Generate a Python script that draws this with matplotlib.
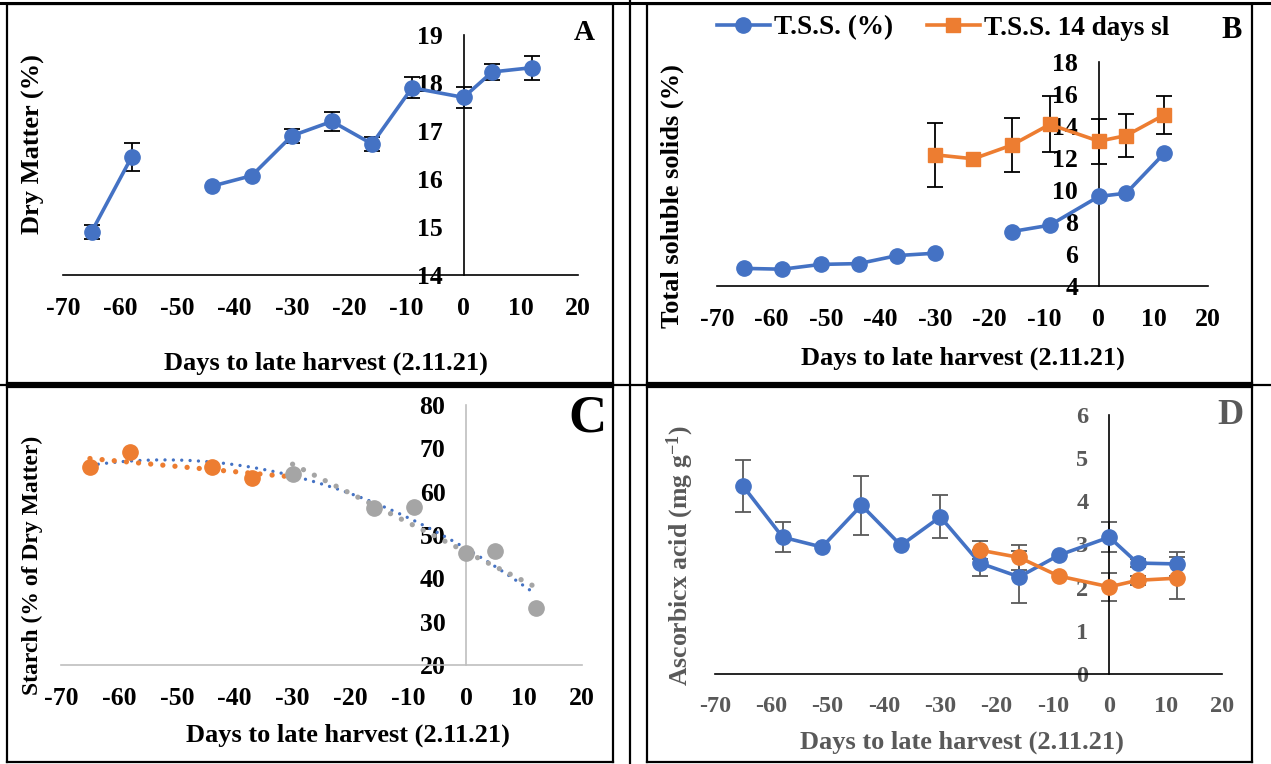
import numpy as np
import matplotlib
matplotlib.use('agg')
import matplotlib.pyplot as plt
from matplotlib.lines import Line2D

plt.rcParams['font.family'] = ['Liberation Serif', 'DejaVu Serif']
plt.rcParams['font.weight'] = 'bold'
plt.rcParams['axes.unicode_minus'] = False
plt.rcParams['mathtext.fontset'] = 'custom'
plt.rcParams['mathtext.rm'] = 'Liberation Serif:bold'
plt.rcParams['mathtext.bf'] = 'Liberation Serif:bold'
plt.rcParams['mathtext.default'] = 'bf'

nan = np.nan
BLUE, ORANGE, GRAY = '#4472C4', '#ED7D31', '#A5A5A5'
DGRAY = '#595959'

# sampling dates, days relative to late harvest (2.11.21)
days = [-65, -58, -51, -44, -37, -30, -23, -16, -9, 0, 5, 12]
x_ticks = [-70, -60, -50, -40, -30, -20, -10, 0, 10, 20]

# A - dry matter
dry_matter = [14.9, 16.46, nan, 15.85, 16.07, 16.9, 17.2, 16.73, 17.9, 17.7, 18.23, 18.32]
dry_matter_err = [0.15, 0.29, 0, 0, 0, 0.14, 0.2, 0.15, 0.22, 0.22, 0.17, 0.25]

# B - total soluble solids
tss = [5.1, 5.05, 5.35, 5.4, 5.9, 6.05, nan, 7.4, 7.8, 9.6, 9.8, 12.3]
tss_14d = [nan, nan, nan, nan, nan, 12.2, 11.95, 12.8, 14.1, 13.05, 13.4, 14.7]
tss_14d_err = [0, 0, 0, 0, 0, 2.0, 0, 1.7, 1.75, 1.4, 1.35, 1.2]

# C - starch
starch_early_days = [-65, -58, -44, -37]
starch_early = [65.7, 69.2, 65.7, 63.2]
starch_late_days = [-30, -16, -9, 0, 5, 12]
starch_late = [64.1, 56.2, 56.5, 45.9, 46.3, 33.2]

# D - ascorbic acid
ascorbic = [4.35, 3.17, 2.94, 3.91, 2.98, 3.64, 2.57, 2.25, 2.75, 3.17, 2.57, 2.55]
ascorbic_err = [0.6, 0.35, 0, 0.68, 0, 0.5, 0.3, 0.6, 0, 0.35, 0.1, 0.27]
ascorbic_sl = [nan, nan, nan, nan, nan, nan, 2.87, 2.7, 2.27, 2.02, 2.17, 2.22]
ascorbic_sl_err = [0, 0, 0, 0, 0, 0, 0.2, 0.3, 0, 0.33, 0.1, 0.49]

W, H = 1271, 764
fig = plt.figure(figsize=(W / 100, H / 100), dpi=100)


def px_axes(x0, x1, ytop, ybot):
    return fig.add_axes([x0 / W, 1 - ybot / H, (x1 - x0) / W, (ybot - ytop) / H])


def fig_line(x0, y0, x1, y1, color='black', lw=1.6):
    fig.add_artist(Line2D([x0 / W, x1 / W], [1 - y0 / H, 1 - y1 / H],
                          transform=fig.transFigure, color=color, lw=lw))


def fig_text(x, y, s, size, color='black', rot=0):
    fig.text(x / W, 1 - y / H, s, ha='center', va='center', fontsize=size,
             fontweight='bold', color=color, rotation=rot)


def style_axes(ax, ylim, yticks, axcolor='black', txtcolor='black', size=18.5):
    ax.set_xlim(-70, 20)
    ax.set_ylim(*ylim)
    ax.set_xticks(x_ticks)
    ax.set_yticks(yticks)
    ax.patch.set_alpha(0)
    for s in ['top', 'right']:
        ax.spines[s].set_visible(False)
    ax.spines['left'].set_position(('data', 0))
    ax.spines['left'].set_color(axcolor)
    ax.spines['bottom'].set_color(axcolor)
    ax.spines['left'].set_linewidth(1.2)
    ax.spines['bottom'].set_linewidth(1.2)
    ax.tick_params(axis='x', length=0, pad=16, labelsize=size, labelcolor=txtcolor)
    ax.tick_params(axis='y', length=0, pad=15, labelsize=size, labelcolor=txtcolor)
    for lab in ax.get_xticklabels() + ax.get_yticklabels():
        lab.set_fontweight('bold')


def err_bars(ax, vals, errs, color):
    keep = [i for i in range(len(days)) if errs[i] > 0 and not np.isnan(vals[i])]
    ax.errorbar([days[i] for i in keep], [vals[i] for i in keep],
                yerr=[errs[i] for i in keep], fmt='none', ecolor=color,
                elinewidth=1.3, capsize=5.5, capthick=1.3, zorder=2)


# ---- A ----
ax = px_axes(63, 578, 35, 275)
style_axes(ax, (14, 19), range(14, 20))
ax.plot(days, dry_matter, color=BLUE, lw=2.6, marker='o', ms=11, zorder=3)
err_bars(ax, dry_matter, dry_matter_err, 'black')
fig_text(33, 144, 'Dry Matter (%)', 19, rot=90)
fig_text(326, 363, 'Days to late harvest (2.11.21)', 19)
fig_text(584, 32, 'A', 21)

# ---- B ----
ax = px_axes(717, 1208, 62, 286)
style_axes(ax, (4, 18), range(4, 19, 2))
l1, = ax.plot(days, tss, color=BLUE, lw=2.6, marker='o', ms=11, zorder=3,
              label='T.S.S. (%)')
l2, = ax.plot(days, tss_14d, color=ORANGE, lw=2.6, marker='s', ms=10, zorder=3,
              label='T.S.S. 14 days sl')
err_bars(ax, tss_14d, tss_14d_err, 'black')
fig.legend(handles=[l1, l2], loc='center left', bbox_to_anchor=(717 / W, 1 - 28 / H),
           ncol=2, frameon=False, handlelength=1.95, columnspacing=1.25,
           handletextpad=0.15, borderpad=0, borderaxespad=0,
           prop={'weight': 'bold', 'size': 19.5})
fig_text(672, 196, 'Total soluble solids (%)', 19, rot=90)
fig_text(963, 358, 'Days to late harvest (2.11.21)', 19)
fig_text(1232, 30, 'B', 22)

# ---- C ----
ax = px_axes(61, 582, 405, 665)
style_axes(ax, (20, 80), range(20, 81, 10), axcolor='#BFBFBF')
all_d = np.array(starch_early_days + starch_late_days, dtype=float)
all_v = np.array(starch_early + starch_late, dtype=float)
xs = np.linspace(-65, 12, 200)
ax.plot(xs, np.polyval(np.polyfit(all_d, all_v, 2), xs), color=BLUE, lw=2.4,
        ls=(0, (0.01, 2.5)), dash_capstyle='round', zorder=2)
xs = np.linspace(-65, -30, 100)
ax.plot(xs, np.polyval(np.polyfit(starch_early_days, starch_early, 1), xs), color=ORANGE,
        lw=3.8, ls=(0, (0.01, 2.3)), dash_capstyle='round', zorder=2)
xs = np.linspace(-30, 12, 100)
ax.plot(xs, np.polyval(np.polyfit(starch_late_days, starch_late, 1), xs), color=GRAY,
        lw=3.8, ls=(0, (0.01, 2.3)), dash_capstyle='round', zorder=2)
ax.plot(starch_early_days, starch_early, 'o', color=ORANGE, ms=11, zorder=3)
ax.plot(starch_late_days, starch_late, 'o', color=GRAY, ms=11, zorder=3)
fig_text(32, 565, 'Starch (% of Dry Matter)', 17, rot=90)
fig_text(348, 735, 'Days to late harvest (2.11.21)', 19)
fig_text(587, 419, 'C', 38)

# ---- D ----
ax = px_axes(715, 1222, 415, 674)
style_axes(ax, (0, 6), range(0, 7), txtcolor=DGRAY, size=17.5)
ax.plot(days, ascorbic, color=BLUE, lw=2.6, marker='o', ms=11, zorder=3)
ax.plot(days, ascorbic_sl, color=ORANGE, lw=2.6, marker='o', ms=11, zorder=3)
err_bars(ax, ascorbic, ascorbic_err, DGRAY)
err_bars(ax, ascorbic_sl, ascorbic_sl_err, DGRAY)
fig_text(680, 556, 'Ascorbicx acid (mg g$^{-1}$)', 18.5, color=DGRAY, rot=90)
fig_text(962, 742, 'Days to late harvest (2.11.21)', 19, color=DGRAY)
fig_text(1230, 415, 'D', 26, color=DGRAY)

# ---- table / panel frames ----
for x0, x1, y0, y1 in [(7, 613, 4, 383), (647, 1252, 4, 383),
                       (7, 613, 387, 762), (647, 1252, 387, 762)]:
    fig_line(x0, y0, x1, y0)
    fig_line(x0, y1, x1, y1)
    fig_line(x0, y0, x0, y1)
    fig_line(x1, y0, x1, y1)
fig_line(0, 3, W, 3, lw=2.2)
fig_line(0, 385, W, 385)
fig_line(630, 0, 630, H)

fig.savefig('out.png', dpi=100)
